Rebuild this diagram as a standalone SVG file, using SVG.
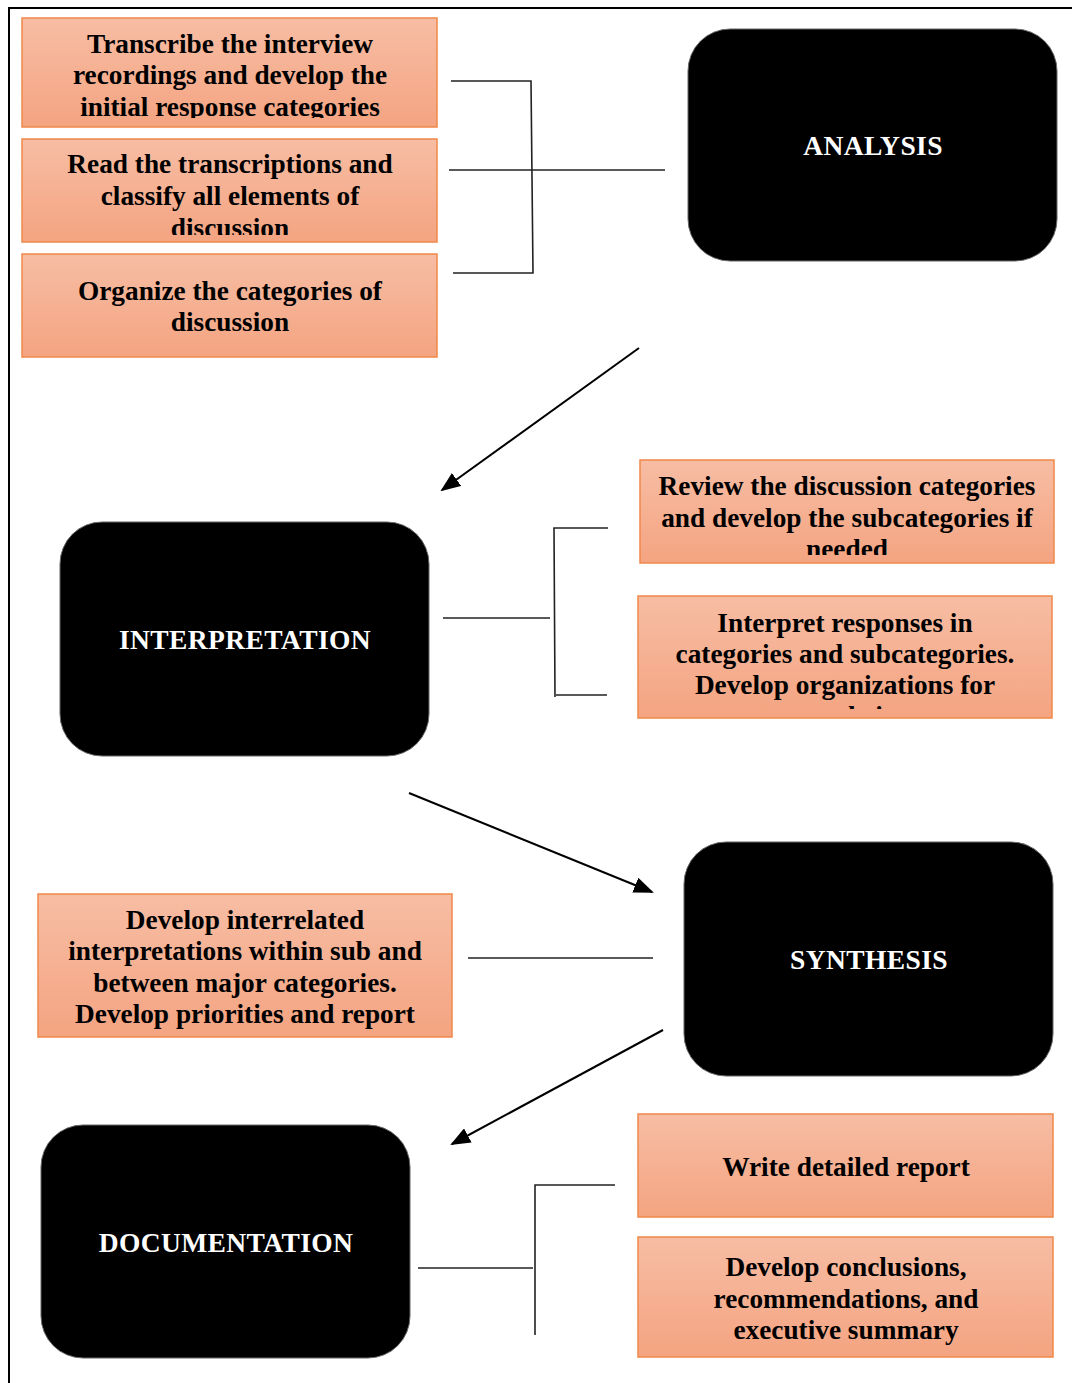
<svg xmlns="http://www.w3.org/2000/svg" width="1072" height="1383" viewBox="0 0 1072 1383">
<style>
.box{fill:url(#og);stroke:#F0884A;stroke-width:1.5}
.stage{fill:#000;stroke:#666;stroke-width:1}
.bt{font-family:"Liberation Serif","Times New Roman",serif;font-weight:bold;font-size:27.3px;fill:#000;text-anchor:middle}
.st{font-family:"Liberation Serif","Times New Roman",serif;font-weight:bold;font-size:27.5px;letter-spacing:0.4px;fill:#fff;text-anchor:middle}
.ln{stroke:#222;stroke-width:1.6;fill:none}
.ar{stroke:#000;stroke-width:2;fill:none;marker-end:url(#ah)}
</style>
<defs>
<linearGradient id="og" x1="0" y1="0" x2="0" y2="1">
<stop offset="0" stop-color="#F7BDA4"/>
<stop offset="1" stop-color="#F4A481"/>
</linearGradient>
<marker id="ah" markerWidth="10" markerHeight="8" refX="9" refY="4" orient="auto" markerUnits="strokeWidth">
<path d="M0,0 L10,4 L0,8 z" fill="#000"/>
</marker>
<clipPath id="c1"><rect x="22" y="18" width="415" height="100"/></clipPath>
<clipPath id="c2"><rect x="22" y="139" width="415" height="96"/></clipPath>
<clipPath id="c4"><rect x="640" y="460" width="414" height="95"/></clipPath>
<clipPath id="c5"><rect x="638" y="596" width="414" height="113"/></clipPath>
</defs>
<rect width="1072" height="1383" fill="#fff"/>
<path d="M9,1383 L9,8 L1072,8" fill="none" stroke="#000" stroke-width="2"/>

<g id="connectors">
<path class="ln" d="M451,81 L531,81 L533,273 L453,273"/>
<path class="ln" d="M449,170 L665,170"/>
<path class="ln" d="M608,528 L554,528 L555,697"/>
<path class="ln" d="M556,695 L607,695"/>
<path class="ln" d="M443,618 L550,618"/>
<path class="ln" d="M468,958 L653,958"/>
<path class="ln" d="M615,1185 L535,1185 L535,1335"/>
<path class="ln" d="M418,1268 L533,1268" stroke="#666"/>
<path class="ar" d="M639,348 L442,490"/>
<path class="ar" d="M409,793 L652,892"/>
<path class="ar" d="M663,1030 L452,1144"/>
</g>

<g id="n-transcribe">
<rect class="box" x="22" y="18" width="415" height="109"/>
<g clip-path="url(#c1)">
<text class="bt" x="230" y="53">Transcribe the interview</text>
<text class="bt" x="230" y="84">recordings and develop the</text>
<text class="bt" x="230" y="116">initial response categories</text>
</g>
</g>
<g id="n-read">
<rect class="box" x="22" y="139" width="415" height="103"/>
<g clip-path="url(#c2)">
<text class="bt" x="230" y="173">Read the transcriptions and</text>
<text class="bt" x="230" y="205">classify all elements of</text>
<text class="bt" x="230" y="237">discussion</text>
</g>
</g>
<g id="n-organize">
<rect class="box" x="22" y="254" width="415" height="103"/>
<text class="bt" x="230" y="300">Organize the categories of</text>
<text class="bt" x="230" y="331">discussion</text>
</g>
<g id="n-analysis">
<rect class="stage" x="688" y="29" width="369" height="232" rx="42"/>
<text class="st" x="873" y="155">ANALYSIS</text>
</g>

<g id="n-interpretation">
<rect class="stage" x="60" y="522" width="369" height="234" rx="42"/>
<text class="st" x="245" y="649">INTERPRETATION</text>
</g>
<g id="n-review">
<rect class="box" x="640" y="460" width="414" height="103"/>
<g clip-path="url(#c4)">
<text class="bt" x="847" y="495">Review the discussion categories</text>
<text class="bt" x="847" y="527">and develop the subcategories if</text>
<text class="bt" x="847" y="558">needed</text>
</g>
</g>
<g id="n-interpret">
<rect class="box" x="638" y="596" width="414" height="122"/>
<g clip-path="url(#c5)">
<text class="bt" x="845" y="632">Interpret responses in</text>
<text class="bt" x="845" y="663">categories and subcategories.</text>
<text class="bt" x="845" y="694">Develop organizations for</text>
<text class="bt" x="867" y="725">their</text>
</g>
</g>

<g id="n-synthesis">
<rect class="stage" x="684" y="842" width="369" height="234" rx="42"/>
<text class="st" x="869" y="969">SYNTHESIS</text>
</g>
<g id="n-develop">
<rect class="box" x="38" y="894" width="414" height="143"/>
<text class="bt" x="245" y="929">Develop interrelated</text>
<text class="bt" x="245" y="960">interpretations within sub and</text>
<text class="bt" x="245" y="992">between major categories.</text>
<text class="bt" x="245" y="1023">Develop priorities and report</text>
</g>

<g id="n-documentation">
<rect class="stage" x="41" y="1125" width="369" height="233" rx="42"/>
<text class="st" x="226" y="1252">DOCUMENTATION</text>
</g>
<g id="n-write">
<rect class="box" x="638" y="1114" width="415" height="103"/>
<text class="bt" x="846" y="1176">Write detailed report</text>
</g>
<g id="n-conclusions">
<rect class="box" x="638" y="1237" width="415" height="120"/>
<text class="bt" x="846" y="1276">Develop conclusions,</text>
<text class="bt" x="846" y="1308">recommendations, and</text>
<text class="bt" x="846" y="1339">executive summary</text>
</g>
</svg>
